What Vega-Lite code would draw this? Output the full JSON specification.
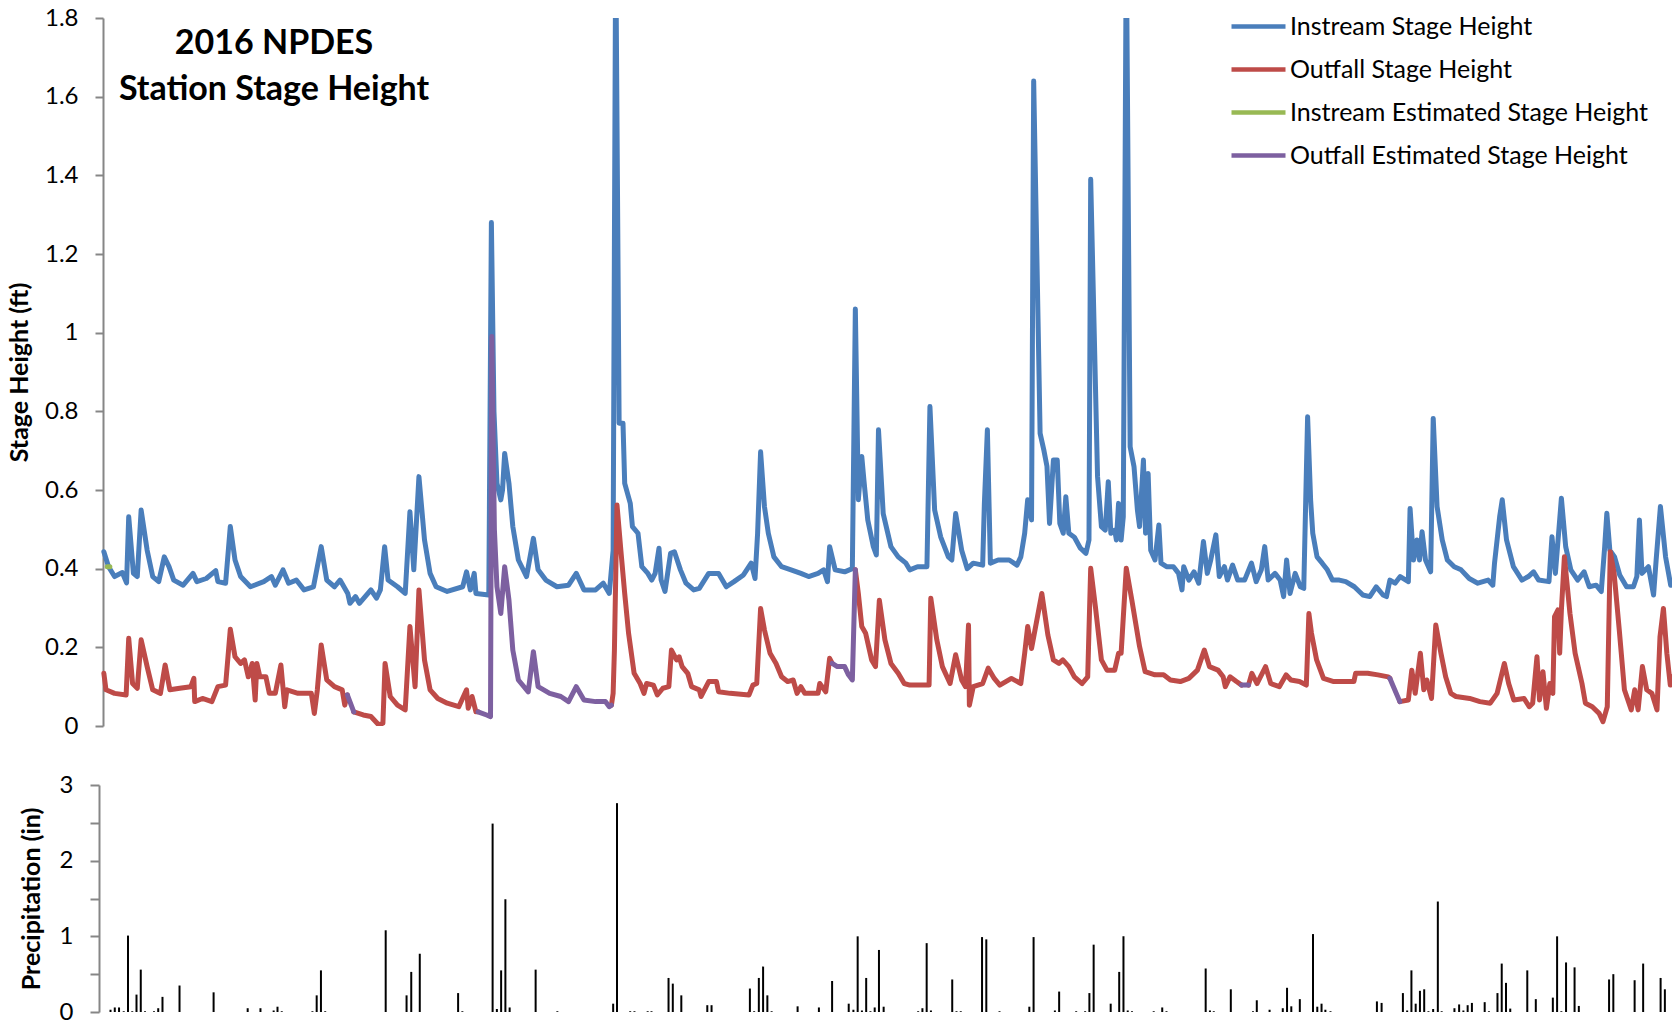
{
  "$schema": "https://vega.github.io/schema/vega-lite/v6.json",
  "padding": {"left": 7, "top": -3, "right": 0, "bottom": 0},
  "background": "white",
  "bounds": "flush",
  "spacing": 59,
  "config": {
    "view": {"stroke": null},
    "font": "Lato",
    "axis": {
      "grid": false,
      "domainColor": "#868686",
      "domainWidth": 2,
      "tickColor": "#868686",
      "tickWidth": 2,
      "labelColor": "#000000",
      "labelFont": "Lato",
      "labelFontSize": 24,
      "labelPadding": 17,
      "titleColor": "#000000",
      "titleFont": "Lato",
      "titleFontSize": 25,
      "titleFontWeight": "bold"
    }
  },
  "datasets": {
    "inst": [
      {"t":0.2,"v":0.443},{"t":1.3,"v":0.405},{"t":2.7,"v":0.38},{"t":4.5,"v":0.39},{"t":5.5,"v":0.364},{"t":6.0,"v":0.532},{"t":7.1,"v":0.388},{"t":8.0,"v":0.38},{"t":8.9,"v":0.549},{"t":10.3,"v":0.447},{"t":11.6,"v":0.38},{"t":13.0,"v":0.367},{"t":14.3,"v":0.43},{"t":15.4,"v":0.405},{"t":16.5,"v":0.371},{"t":18.7,"v":0.358},{"t":21.0,"v":0.388},{"t":21.9,"v":0.367},{"t":24.1,"v":0.375},{"t":26.3,"v":0.395},{"t":26.8,"v":0.367},{"t":28.6,"v":0.363},{"t":29.7,"v":0.507},{"t":30.8,"v":0.422},{"t":32.1,"v":0.38},{"t":34.4,"v":0.354},{"t":37.5,"v":0.367},{"t":39.3,"v":0.38},{"t":40.2,"v":0.358},{"t":42.0,"v":0.397},{"t":43.3,"v":0.363},{"t":45.1,"v":0.371},{"t":46.9,"v":0.346},{"t":49.1,"v":0.354},{"t":50.9,"v":0.456},{"t":52.2,"v":0.371},{"t":54.0,"v":0.354},{"t":55.3,"v":0.371},{"t":57.1,"v":0.337},{"t":57.6,"v":0.312},{"t":58.9,"v":0.329},{"t":59.8,"v":0.312},{"t":62.5,"v":0.346},{"t":63.8,"v":0.325},{"t":64.7,"v":0.346},{"t":65.7,"v":0.456},{"t":66.5,"v":0.371},{"t":68.7,"v":0.354},{"t":70.5,"v":0.337},{"t":71.6,"v":0.545},{"t":72.5,"v":0.397},{"t":73.7,"v":0.634},{"t":75.0,"v":0.473},{"t":76.3,"v":0.388},{"t":77.7,"v":0.354},{"t":80.3,"v":0.342},{"t":83.9,"v":0.354},{"t":84.8,"v":0.392},{"t":85.7,"v":0.346},{"t":86.6,"v":0.388},{"t":87.0,"v":0.337},{"t":90.0,"v":0.333},{"t":90.6,"v":1.28},{"t":91.2,"v":0.8},{"t":91.9,"v":0.617},{"t":92.8,"v":0.575},{"t":93.2,"v":0.6},{"t":93.7,"v":0.693},{"t":94.7,"v":0.617},{"t":95.6,"v":0.507},{"t":96.9,"v":0.422},{"t":98.8,"v":0.38},{"t":100.4,"v":0.477},{"t":101.5,"v":0.397},{"t":103.3,"v":0.371},{"t":105.9,"v":0.354},{"t":108.6,"v":0.358},{"t":110.4,"v":0.388},{"t":112.2,"v":0.346},{"t":114.9,"v":0.346},{"t":116.7,"v":0.363},{"t":118.1,"v":0.337},{"t":119.0,"v":0.447},{"t":119.6,"v":2.0},{"t":120.4,"v":0.77},{"t":121.3,"v":0.77},{"t":121.7,"v":0.617},{"t":123.0,"v":0.566},{"t":123.5,"v":0.507},{"t":124.8,"v":0.49},{"t":125.7,"v":0.405},{"t":127.1,"v":0.388},{"t":128.0,"v":0.371},{"t":128.8,"v":0.388},{"t":129.7,"v":0.452},{"t":130.2,"v":0.371},{"t":131.1,"v":0.342},{"t":132.4,"v":0.439},{"t":133.3,"v":0.443},{"t":134.7,"v":0.397},{"t":136.0,"v":0.363},{"t":137.8,"v":0.346},{"t":139.1,"v":0.35},{"t":141.3,"v":0.388},{"t":143.6,"v":0.388},{"t":145.4,"v":0.354},{"t":147.2,"v":0.367},{"t":149.4,"v":0.384},{"t":151.2,"v":0.414},{"t":152.1,"v":0.375},{"t":152.7,"v":0.49},{"t":153.4,"v":0.697},{"t":154.3,"v":0.558},{"t":155.2,"v":0.49},{"t":156.5,"v":0.43},{"t":158.3,"v":0.405},{"t":160.5,"v":0.397},{"t":162.8,"v":0.388},{"t":164.6,"v":0.38},{"t":166.8,"v":0.388},{"t":168.1,"v":0.397},{"t":169.0,"v":0.367},{"t":169.5,"v":0.456},{"t":170.8,"v":0.397},{"t":173.0,"v":0.392},{"t":174.8,"v":0.4},{"t":175.5,"v":1.06},{"t":176.2,"v":0.575},{"t":177.0,"v":0.685},{"t":177.5,"v":0.625},{"t":178.4,"v":0.524},{"t":179.7,"v":0.456},{"t":180.4,"v":0.435},{"t":180.9,"v":0.753},{"t":182.0,"v":0.54},{"t":183.8,"v":0.456},{"t":185.5,"v":0.43},{"t":187.3,"v":0.414},{"t":188.2,"v":0.397},{"t":190.0,"v":0.405},{"t":192.2,"v":0.405},{"t":192.9,"v":0.812},{"t":194.0,"v":0.549},{"t":195.4,"v":0.481},{"t":197.2,"v":0.43},{"t":198.0,"v":0.422},{"t":198.9,"v":0.54},{"t":200.3,"v":0.447},{"t":201.6,"v":0.4},{"t":203.0,"v":0.414},{"t":205.2,"v":0.409},{"t":205.6,"v":0.566},{"t":206.3,"v":0.753},{"t":207.0,"v":0.414},{"t":208.8,"v":0.422},{"t":211.4,"v":0.422},{"t":213.2,"v":0.409},{"t":214.1,"v":0.43},{"t":215.0,"v":0.49},{"t":215.7,"v":0.575},{"t":216.6,"v":0.524},{"t":217.1,"v":1.64},{"t":218.6,"v":0.744},{"t":219.5,"v":0.7},{"t":220.2,"v":0.66},{"t":220.8,"v":0.515},{"t":221.7,"v":0.676},{"t":222.6,"v":0.676},{"t":223.2,"v":0.515},{"t":224.0,"v":0.49},{"t":224.6,"v":0.583},{"t":225.3,"v":0.49},{"t":226.6,"v":0.48},{"t":228.0,"v":0.452},{"t":229.3,"v":0.439},{"t":230.0,"v":0.473},{"t":230.4,"v":1.39},{"t":232.0,"v":0.634},{"t":232.9,"v":0.507},{"t":233.8,"v":0.498},{"t":234.5,"v":0.621},{"t":235.1,"v":0.49},{"t":236.0,"v":0.498},{"t":236.4,"v":0.473},{"t":236.9,"v":0.566},{"t":237.5,"v":0.473},{"t":238.0,"v":0.532},{"t":238.7,"v":2.0},{"t":239.6,"v":0.71},{"t":240.5,"v":0.66},{"t":241.3,"v":0.549},{"t":241.8,"v":0.507},{"t":242.7,"v":0.676},{"t":243.2,"v":0.49},{"t":243.8,"v":0.642},{"t":244.4,"v":0.447},{"t":245.4,"v":0.422},{"t":246.3,"v":0.511},{"t":246.8,"v":0.414},{"t":248.1,"v":0.405},{"t":249.7,"v":0.405},{"t":250.9,"v":0.388},{"t":251.7,"v":0.346},{"t":252.1,"v":0.405},{"t":253.3,"v":0.371},{"t":254.5,"v":0.392},{"t":255.6,"v":0.363},{"t":256.7,"v":0.469},{"t":257.6,"v":0.388},{"t":258.4,"v":0.422},{"t":259.6,"v":0.486},{"t":260.4,"v":0.38},{"t":261.6,"v":0.405},{"t":262.3,"v":0.371},{"t":263.5,"v":0.409},{"t":264.7,"v":0.371},{"t":266.3,"v":0.371},{"t":267.9,"v":0.414},{"t":269.0,"v":0.367},{"t":270.2,"v":0.397},{"t":271.0,"v":0.456},{"t":271.8,"v":0.371},{"t":273.4,"v":0.388},{"t":274.6,"v":0.371},{"t":275.4,"v":0.329},{"t":276.1,"v":0.422},{"t":276.9,"v":0.337},{"t":278.1,"v":0.388},{"t":279.3,"v":0.354},{"t":280.1,"v":0.35},{"t":281.0,"v":0.786},{"t":281.7,"v":0.575},{"t":282.2,"v":0.49},{"t":283.2,"v":0.43},{"t":284.4,"v":0.414},{"t":285.6,"v":0.397},{"t":286.8,"v":0.371},{"t":288.4,"v":0.371},{"t":289.9,"v":0.367},{"t":291.9,"v":0.354},{"t":293.9,"v":0.333},{"t":295.5,"v":0.329},{"t":297.0,"v":0.354},{"t":298.6,"v":0.333},{"t":299.4,"v":0.329},{"t":300.2,"v":0.371},{"t":301.4,"v":0.363},{"t":302.6,"v":0.38},{"t":304.5,"v":0.367},{"t":304.9,"v":0.553},{"t":305.7,"v":0.422},{"t":306.5,"v":0.473},{"t":307.1,"v":0.422},{"t":307.7,"v":0.494},{"t":308.5,"v":0.422},{"t":309.7,"v":0.392},{"t":310.3,"v":0.782},{"t":311.2,"v":0.558},{"t":312.4,"v":0.473},{"t":313.6,"v":0.422},{"t":315.2,"v":0.405},{"t":316.8,"v":0.397},{"t":318.7,"v":0.375},{"t":320.7,"v":0.363},{"t":323.1,"v":0.371},{"t":324.2,"v":0.358},{"t":324.6,"v":0.414},{"t":325.8,"v":0.532},{"t":326.4,"v":0.575},{"t":327.4,"v":0.473},{"t":329.0,"v":0.405},{"t":331.0,"v":0.371},{"t":332.5,"v":0.38},{"t":333.7,"v":0.392},{"t":334.9,"v":0.371},{"t":337.3,"v":0.367},{"t":338.0,"v":0.481},{"t":338.8,"v":0.388},{"t":340.2,"v":0.579},{"t":341.2,"v":0.456},{"t":342.4,"v":0.397},{"t":344.0,"v":0.371},{"t":345.5,"v":0.392},{"t":346.7,"v":0.354},{"t":348.3,"v":0.358},{"t":349.5,"v":0.342},{"t":350.3,"v":0.456},{"t":350.8,"v":0.541},{"t":351.5,"v":0.447},{"t":352.6,"v":0.43},{"t":353.8,"v":0.384},{"t":355.4,"v":0.354},{"t":357.0,"v":0.354},{"t":357.8,"v":0.38},{"t":358.4,"v":0.524},{"t":359.0,"v":0.388},{"t":360.5,"v":0.405},{"t":361.7,"v":0.333},{"t":362.3,"v":0.422},{"t":363.3,"v":0.558},{"t":364.5,"v":0.43},{"t":365.7,"v":0.358}
    ],
    "outf": [
      {"g":1,"t":0.2,"v":0.134},{"g":1,"t":0.7,"v":0.092},{"g":1,"t":2.7,"v":0.083},{"g":1,"t":5.4,"v":0.079},{"g":1,"t":6.0,"v":0.223},{"g":1,"t":6.9,"v":0.108},{"g":1,"t":8.0,"v":0.096},{"g":1,"t":8.9,"v":0.219},{"g":1,"t":10.3,"v":0.151},{"g":1,"t":11.6,"v":0.092},{"g":1,"t":13.4,"v":0.083},{"g":1,"t":14.5,"v":0.155},{"g":1,"t":15.6,"v":0.092},{"g":1,"t":17.9,"v":0.096},{"g":1,"t":20.5,"v":0.1},{"g":1,"t":21.2,"v":0.121},{"g":1,"t":21.4,"v":0.062},{"g":1,"t":23.2,"v":0.07},{"g":1,"t":25.4,"v":0.062},{"g":1,"t":26.8,"v":0.1},{"g":1,"t":28.6,"v":0.104},{"g":1,"t":29.7,"v":0.246},{"g":1,"t":30.8,"v":0.176},{"g":1,"t":32.1,"v":0.159},{"g":1,"t":33.0,"v":0.168},{"g":1,"t":33.9,"v":0.125},{"g":1,"t":34.8,"v":0.159},{"g":1,"t":35.5,"v":0.066},{"g":1,"t":35.9,"v":0.159},{"g":1,"t":36.6,"v":0.125},{"g":1,"t":38.0,"v":0.125},{"g":1,"t":38.8,"v":0.083},{"g":1,"t":40.2,"v":0.083},{"g":1,"t":41.5,"v":0.155},{"g":1,"t":42.4,"v":0.049},{"g":1,"t":42.9,"v":0.092},{"g":1,"t":45.5,"v":0.083},{"g":1,"t":48.6,"v":0.083},{"g":1,"t":49.3,"v":0.032},{"g":1,"t":50.0,"v":0.092},{"g":1,"t":50.9,"v":0.206},{"g":1,"t":52.2,"v":0.117},{"g":1,"t":54.0,"v":0.1},{"g":1,"t":55.8,"v":0.092},{"g":1,"t":56.4,"v":0.053},{"g":1,"t":57.0,"v":0.079},
      {"g":2,"t":58.5,"v":0.036},{"g":2,"t":60.7,"v":0.028},{"g":2,"t":62.5,"v":0.024},{"g":2,"t":64.3,"v":0.003},{"g":2,"t":65.3,"v":0.007},{"g":2,"t":65.8,"v":0.159},{"g":2,"t":67.0,"v":0.075},{"g":2,"t":68.7,"v":0.053},{"g":2,"t":70.5,"v":0.041},{"g":2,"t":71.6,"v":0.253},{"g":2,"t":72.8,"v":0.1},{"g":2,"t":73.7,"v":0.346},{"g":2,"t":75.0,"v":0.168},{"g":2,"t":76.3,"v":0.092},{"g":2,"t":78.1,"v":0.07},{"g":2,"t":80.3,"v":0.058},{"g":2,"t":83.0,"v":0.049},{"g":2,"t":84.8,"v":0.092},{"g":2,"t":85.2,"v":0.045},{"g":2,"t":86.1,"v":0.075},{"g":2,"t":87.0,"v":0.036},{"g":2,"t":87.5,"v":0.036},
      {"g":3,"t":118.6,"v":0.053},{"g":3,"t":119.0,"v":0.083},{"g":3,"t":119.3,"v":0.193},{"g":3,"t":119.9,"v":0.562},{"g":3,"t":120.8,"v":0.447},{"g":3,"t":121.7,"v":0.337},{"g":3,"t":122.6,"v":0.236},{"g":3,"t":123.9,"v":0.134},{"g":3,"t":125.3,"v":0.108},{"g":3,"t":126.2,"v":0.083},{"g":3,"t":126.8,"v":0.108},{"g":3,"t":128.4,"v":0.104},{"g":3,"t":129.3,"v":0.079},{"g":3,"t":130.6,"v":0.096},{"g":3,"t":132.0,"v":0.1},{"g":3,"t":132.6,"v":0.193},{"g":3,"t":133.8,"v":0.168},{"g":3,"t":134.4,"v":0.176},{"g":3,"t":135.1,"v":0.151},{"g":3,"t":136.4,"v":0.134},{"g":3,"t":137.3,"v":0.1},{"g":3,"t":139.1,"v":0.092},{"g":3,"t":139.5,"v":0.075},{"g":3,"t":141.3,"v":0.113},{"g":3,"t":143.1,"v":0.113},{"g":3,"t":143.6,"v":0.087},{"g":3,"t":146.3,"v":0.083},{"g":3,"t":150.7,"v":0.079},{"g":3,"t":151.6,"v":0.104},{"g":3,"t":152.5,"v":0.108},{"g":3,"t":153.4,"v":0.299},{"g":3,"t":154.3,"v":0.244},{"g":3,"t":155.6,"v":0.185},{"g":3,"t":157.0,"v":0.159},{"g":3,"t":158.3,"v":0.125},{"g":3,"t":159.7,"v":0.113},{"g":3,"t":161.0,"v":0.117},{"g":3,"t":161.9,"v":0.083},{"g":3,"t":162.8,"v":0.1},{"g":3,"t":163.7,"v":0.083},{"g":3,"t":166.8,"v":0.083},{"g":3,"t":167.2,"v":0.108},{"g":3,"t":168.6,"v":0.087},{"g":3,"t":169.5,"v":0.172},{"g":3,"t":170.1,"v":0.159},
      {"g":4,"t":175.5,"v":0.397},{"g":4,"t":176.2,"v":0.337},{"g":4,"t":177.0,"v":0.253},{"g":4,"t":177.9,"v":0.236},{"g":4,"t":179.3,"v":0.168},{"g":4,"t":180.2,"v":0.151},{"g":4,"t":181.1,"v":0.32},{"g":4,"t":182.4,"v":0.219},{"g":4,"t":183.8,"v":0.159},{"g":4,"t":185.5,"v":0.134},{"g":4,"t":186.9,"v":0.108},{"g":4,"t":188.2,"v":0.104},{"g":4,"t":192.7,"v":0.104},{"g":4,"t":193.1,"v":0.325},{"g":4,"t":194.5,"v":0.219},{"g":4,"t":195.8,"v":0.151},{"g":4,"t":197.6,"v":0.108},{"g":4,"t":198.9,"v":0.181},{"g":4,"t":200.3,"v":0.117},{"g":4,"t":201.2,"v":0.1},{"g":4,"t":201.9,"v":0.257},{"g":4,"t":202.1,"v":0.053},{"g":4,"t":203.0,"v":0.1},{"g":4,"t":205.2,"v":0.108},{"g":4,"t":206.5,"v":0.147},{"g":4,"t":207.9,"v":0.121},{"g":4,"t":209.2,"v":0.104},{"g":4,"t":211.9,"v":0.121},{"g":4,"t":214.1,"v":0.108},{"g":4,"t":215.0,"v":0.185},{"g":4,"t":215.7,"v":0.253},{"g":4,"t":216.6,"v":0.197},{"g":4,"t":219.0,"v":0.337},{"g":4,"t":220.4,"v":0.232},{"g":4,"t":221.7,"v":0.168},{"g":4,"t":223.0,"v":0.159},{"g":4,"t":223.9,"v":0.168},{"g":4,"t":225.3,"v":0.151},{"g":4,"t":226.6,"v":0.125},{"g":4,"t":228.4,"v":0.108},{"g":4,"t":229.7,"v":0.125},{"g":4,"t":230.4,"v":0.401},{"g":4,"t":231.5,"v":0.303},{"g":4,"t":232.9,"v":0.168},{"g":4,"t":234.2,"v":0.142},{"g":4,"t":236.0,"v":0.142},{"g":4,"t":236.9,"v":0.185},{"g":4,"t":237.5,"v":0.185},{"g":4,"t":238.7,"v":0.401},{"g":4,"t":240.0,"v":0.32},{"g":4,"t":241.8,"v":0.202},{"g":4,"t":243.1,"v":0.138},{"g":4,"t":245.4,"v":0.13},{"g":4,"t":247.4,"v":0.13},{"g":4,"t":249.0,"v":0.117},{"g":4,"t":251.3,"v":0.113},{"g":4,"t":253.3,"v":0.121},{"g":4,"t":255.3,"v":0.142},{"g":4,"t":256.9,"v":0.193},{"g":4,"t":258.1,"v":0.151},{"g":4,"t":260.1,"v":0.142},{"g":4,"t":261.3,"v":0.125},{"g":4,"t":261.8,"v":0.1},{"g":4,"t":262.9,"v":0.125},{"g":4,"t":264.4,"v":0.113},{"g":4,"t":265.6,"v":0.104},
      {"g":5,"t":267.2,"v":0.104},{"g":5,"t":268.0,"v":0.134},{"g":5,"t":269.2,"v":0.108},{"g":5,"t":271.2,"v":0.151},{"g":5,"t":272.4,"v":0.108},{"g":5,"t":274.4,"v":0.1},{"g":5,"t":276.0,"v":0.13},{"g":5,"t":277.1,"v":0.117},{"g":5,"t":279.1,"v":0.113},{"g":5,"t":280.7,"v":0.104},{"g":5,"t":281.3,"v":0.286},{"g":5,"t":281.9,"v":0.236},{"g":5,"t":283.1,"v":0.168},{"g":5,"t":284.7,"v":0.121},{"g":5,"t":287.1,"v":0.113},{"g":5,"t":291.8,"v":0.113},{"g":5,"t":292.2,"v":0.134},{"g":5,"t":295.0,"v":0.134},{"g":5,"t":297.4,"v":0.13},{"g":5,"t":299.8,"v":0.125},{"g":5,"t":300.2,"v":0.121},
      {"g":6,"t":302.5,"v":0.062},{"g":6,"t":304.5,"v":0.066},{"g":6,"t":305.3,"v":0.142},{"g":6,"t":306.1,"v":0.083},{"g":6,"t":307.3,"v":0.185},{"g":6,"t":308.1,"v":0.092},{"g":6,"t":308.8,"v":0.117},{"g":6,"t":309.9,"v":0.07},{"g":6,"t":310.9,"v":0.257},{"g":6,"t":312.1,"v":0.185},{"g":6,"t":313.2,"v":0.125},{"g":6,"t":314.4,"v":0.083},{"g":6,"t":315.6,"v":0.075},{"g":6,"t":318.8,"v":0.07},{"g":6,"t":321.2,"v":0.062},{"g":6,"t":323.6,"v":0.058},{"g":6,"t":325.2,"v":0.083},{"g":6,"t":326.9,"v":0.159},{"g":6,"t":327.9,"v":0.108},{"g":6,"t":329.1,"v":0.066},{"g":6,"t":331.5,"v":0.07},{"g":6,"t":332.7,"v":0.049},{"g":6,"t":333.5,"v":0.058},{"g":6,"t":334.5,"v":0.176},{"g":6,"t":335.1,"v":0.066},{"g":6,"t":335.9,"v":0.138},{"g":6,"t":336.7,"v":0.045},{"g":6,"t":337.5,"v":0.108},{"g":6,"t":338.2,"v":0.083},{"g":6,"t":338.6,"v":0.278},{"g":6,"t":339.4,"v":0.295},{"g":6,"t":339.8,"v":0.185},{"g":6,"t":340.2,"v":0.295},{"g":6,"t":340.9,"v":0.43},{"g":6,"t":342.2,"v":0.286},{"g":6,"t":343.4,"v":0.185},{"g":6,"t":345.0,"v":0.108},{"g":6,"t":345.8,"v":0.058},{"g":6,"t":347.4,"v":0.049},{"g":6,"t":349.0,"v":0.032},{"g":6,"t":349.9,"v":0.011},{"g":6,"t":350.9,"v":0.049},{"g":6,"t":351.6,"v":0.443},{"g":6,"t":352.5,"v":0.388},{"g":6,"t":353.7,"v":0.244},{"g":6,"t":354.9,"v":0.092},{"g":6,"t":356.5,"v":0.041},{"g":6,"t":357.3,"v":0.092},{"g":6,"t":358.1,"v":0.041},{"g":6,"t":359.1,"v":0.151},{"g":6,"t":360.1,"v":0.092},{"g":6,"t":361.3,"v":0.083},{"g":6,"t":362.5,"v":0.041},{"g":6,"t":363.2,"v":0.227},{"g":6,"t":364.0,"v":0.299},{"g":6,"t":364.8,"v":0.185},{"g":6,"t":365.6,"v":0.104},{"g":6,"t":366.0,"v":0.125}
    ],
    "iest": [{"t":1.0,"v":0.405},{"t":1.6,"v":0.405}],
    "oest": [
      {"g":1,"t":57.0,"v":0.079},{"g":1,"t":58.5,"v":0.036},
      {"g":2,"t":87.5,"v":0.036},{"g":2,"t":89.5,"v":0.028},{"g":2,"t":90.4,"v":0.024},{"g":2,"t":90.7,"v":0.99},{"g":2,"t":91.3,"v":0.5},{"g":2,"t":91.9,"v":0.354},{"g":2,"t":92.8,"v":0.286},{"g":2,"t":93.7,"v":0.405},{"g":2,"t":94.7,"v":0.32},{"g":2,"t":95.6,"v":0.193},{"g":2,"t":96.9,"v":0.117},{"g":2,"t":99.2,"v":0.087},{"g":2,"t":100.4,"v":0.189},{"g":2,"t":101.5,"v":0.1},{"g":2,"t":104.2,"v":0.083},{"g":2,"t":106.8,"v":0.075},{"g":2,"t":108.6,"v":0.062},{"g":2,"t":110.4,"v":0.1},{"g":2,"t":112.2,"v":0.066},{"g":2,"t":114.9,"v":0.062},{"g":2,"t":117.2,"v":0.062},{"g":2,"t":118.1,"v":0.049},{"g":2,"t":118.6,"v":0.053},
      {"g":3,"t":170.1,"v":0.159},{"g":3,"t":171.3,"v":0.151},{"g":3,"t":173.0,"v":0.151},{"g":3,"t":173.9,"v":0.13},{"g":3,"t":174.8,"v":0.117},{"g":3,"t":175.5,"v":0.397},
      {"g":4,"t":265.6,"v":0.104},{"g":4,"t":267.2,"v":0.104},
      {"g":5,"t":300.2,"v":0.121},{"g":5,"t":302.5,"v":0.062}
    ],
    "prcp": [
      {"d":0.6,"p":0.03},{"d":1.6,"p":0.06},{"d":2.6,"p":0.06},{"d":3.7,"p":0.01},{"d":4.7,"p":1.01},{"d":5.7,"p":0.01},{"d":6.7,"p":0.23},{"d":7.7,"p":0.56},{"d":8.7,"p":0.01},{"d":10.8,"p":0.01},{"d":11.8,"p":0.05},{"d":12.8,"p":0.2},{"d":16.8,"p":0.35},{"d":24.8,"p":0.26},{"d":32.8,"p":0.05},{"d":35.8,"p":0.05},{"d":38.9,"p":0.02},{"d":39.8,"p":0.07},{"d":40.8,"p":0.01},{"d":48.0,"p":0.01},{"d":49.0,"p":0.22},{"d":50.0,"p":0.55},{"d":51.0,"p":0.01},{"d":65.2,"p":1.08},{"d":70.1,"p":0.22},{"d":71.2,"p":0.53},{"d":73.2,"p":0.77},{"d":82.2,"p":0.25},{"d":83.2,"p":0.01},{"d":90.3,"p":2.49},{"d":91.3,"p":0.04},{"d":92.3,"p":0.55},{"d":93.3,"p":1.49},{"d":94.3,"p":0.06},{"d":100.4,"p":0.56},{"d":105.5,"p":0.01},{"d":118.6,"p":0.11},{"d":119.5,"p":2.76},{"d":122.6,"p":0.01},{"d":123.6,"p":0.01},{"d":126.7,"p":0.01},{"d":127.6,"p":0.01},{"d":131.6,"p":0.45},{"d":132.6,"p":0.375},{"d":134.6,"p":0.22},{"d":140.7,"p":0.09},{"d":141.7,"p":0.09},{"d":150.7,"p":0.31},{"d":151.7,"p":0.01},{"d":152.8,"p":0.45},{"d":153.8,"p":0.6},{"d":154.8,"p":0.22},{"d":155.8,"p":0.01},{"d":161.9,"p":0.075},{"d":166.9,"p":0.06},{"d":170.0,"p":0.41},{"d":173.9,"p":0.11},{"d":175.0,"p":0.03},{"d":176.0,"p":1.0},{"d":177.0,"p":0.02},{"d":178.0,"p":0.45},{"d":179.0,"p":0.01},{"d":180.0,"p":0.06},{"d":181.0,"p":0.82},{"d":182.1,"p":0.07},{"d":190.2,"p":0.01},{"d":191.2,"p":0.05},{"d":192.2,"p":0.91},{"d":193.2,"p":0.02},{"d":198.2,"p":0.43},{"d":199.2,"p":0.01},{"d":200.2,"p":0.01},{"d":205.2,"p":0.99},{"d":206.2,"p":0.96},{"d":209.3,"p":0.01},{"d":216.3,"p":0.07},{"d":217.3,"p":0.99},{"d":222.3,"p":0.02},{"d":223.3,"p":0.27},{"d":227.3,"p":0.01},{"d":229.4,"p":0.01},{"d":230.4,"p":0.25},{"d":231.4,"p":0.89},{"d":235.4,"p":0.11},{"d":237.4,"p":0.53},{"d":238.4,"p":1.0},{"d":239.4,"p":0.02},{"d":240.4,"p":0.01},{"d":245.5,"p":0.01},{"d":247.5,"p":0.06},{"d":248.5,"p":0.01},{"d":257.7,"p":0.575},{"d":258.7,"p":0.02},{"d":259.6,"p":0.01},{"d":263.6,"p":0.3},{"d":268.8,"p":0.01},{"d":269.7,"p":0.155},{"d":272.7,"p":0.03},{"d":275.8,"p":0.05},{"d":276.8,"p":0.32},{"d":277.8,"p":0.075},{"d":279.8,"p":0.17},{"d":282.9,"p":1.03},{"d":283.9,"p":0.07},{"d":284.9,"p":0.11},{"d":285.8,"p":0.03},{"d":287.0,"p":0.01},{"d":297.9,"p":0.14},{"d":299.0,"p":0.12},{"d":304.0,"p":0.25},{"d":305.0,"p":0.02},{"d":306.0,"p":0.55},{"d":307.0,"p":0.11},{"d":308.0,"p":0.28},{"d":309.0,"p":0.3},{"d":310.0,"p":0.01},{"d":311.1,"p":0.04},{"d":312.2,"p":1.46},{"d":313.1,"p":0.01},{"d":316.1,"p":0.05},{"d":317.2,"p":0.1},{"d":318.2,"p":0.02},{"d":319.2,"p":0.09},{"d":320.2,"p":0.12},{"d":323.2,"p":0.13},{"d":324.2,"p":0.01},{"d":326.2,"p":0.25},{"d":327.2,"p":0.64},{"d":328.2,"p":0.385},{"d":329.2,"p":0.045},{"d":333.2,"p":0.55},{"d":335.2,"p":0.17},{"d":339.2,"p":0.19},{"d":340.2,"p":1.0},{"d":341.2,"p":0.01},{"d":342.3,"p":0.655},{"d":344.3,"p":0.59},{"d":345.3,"p":0.08},{"d":352.4,"p":0.43},{"d":353.4,"p":0.5},{"d":358.4,"p":0.42},{"d":360.4,"p":0.64},{"d":364.5,"p":0.45},{"d":365.5,"p":0.3}
    ]
  },
  "vconcat": [
    {
      "width": 1573,
      "height": 708,
      "layer": [
        {
          "data": {"name": "inst"},
          "mark": {"type": "line", "clip": true, "strokeWidth": 5, "strokeJoin": "round", "strokeCap": "round"},
          "encoding": {
            "x": {"field": "t", "type": "quantitative", "scale": {"domain": [-0.93, 366], "nice": false, "zero": false}, "axis": null},
            "y": {"field": "v", "type": "quantitative", "scale": {"domain": [0, 1.8], "nice": false},
              "axis": {"title": "Stage Height (ft)", "values": [0, 0.2, 0.4, 0.6, 0.8, 1, 1.2, 1.4, 1.6, 1.8], "format": ".2~f", "tickSize": 8, "offset": -4, "titlePadding": 12}},
            "color": {"datum": "Instream Stage Height", "type": "nominal",
              "scale": {"domain": ["Instream Stage Height", "Outfall Stage Height", "Instream Estimated Stage Height", "Outfall Estimated Stage Height"], "range": ["#4A7EBB", "#BE4B48", "#98B954", "#7D60A0"]},
              "legend": {"title": null, "orient": "none", "legendX": 1130, "legendY": -21, "symbolType": "stroke", "symbolSize": 2916, "symbolStrokeWidth": 4.5, "labelFont": "Lato", "labelFontSize": 25, "labelColor": "#000000", "labelOffset": 2, "rowPadding": -10, "padding": 0, "labelLimit": 500}}
          }
        },
        {
          "data": {"name": "outf"},
          "mark": {"type": "line", "clip": true, "strokeWidth": 5, "strokeJoin": "round", "strokeCap": "round"},
          "encoding": {
            "x": {"field": "t", "type": "quantitative"},
            "y": {"field": "v", "type": "quantitative"},
            "detail": {"field": "g", "type": "nominal"},
            "color": {"datum": "Outfall Stage Height", "type": "nominal"}
          }
        },
        {
          "data": {"name": "iest"},
          "mark": {"type": "line", "clip": true, "strokeWidth": 5, "strokeJoin": "round", "strokeCap": "round"},
          "encoding": {
            "x": {"field": "t", "type": "quantitative"},
            "y": {"field": "v", "type": "quantitative"},
            "color": {"datum": "Instream Estimated Stage Height", "type": "nominal"}
          }
        },
        {
          "data": {"name": "oest"},
          "mark": {"type": "line", "clip": true, "strokeWidth": 5, "strokeJoin": "round", "strokeCap": "round"},
          "encoding": {
            "x": {"field": "t", "type": "quantitative"},
            "y": {"field": "v", "type": "quantitative"},
            "detail": {"field": "g", "type": "nominal"},
            "color": {"datum": "Outfall Estimated Stage Height", "type": "nominal"}
          }
        },
        {
          "data": {"values": [{}]},
          "mark": {"type": "text", "font": "Lato", "fontWeight": "bold", "fontSize": 34, "align": "center", "baseline": "alphabetic", "lineHeight": 46, "color": "#000000"},
          "encoding": {
            "x": {"datum": 39.9, "type": "quantitative"},
            "y": {"datum": 1.709, "type": "quantitative"},
            "text": {"value": ["2016 NPDES", "Station Stage Height"]}
          }
        }
      ]
    },
    {
      "width": 1573,
      "height": 227,
      "data": {"name": "prcp"},
      "mark": {"type": "bar", "size": 2, "color": "#000000"},
      "encoding": {
        "x": {"field": "d", "type": "quantitative", "scale": {"domain": [-0.93, 366], "nice": false, "zero": false}, "axis": null},
        "y": {"field": "p", "type": "quantitative", "scale": {"domain": [0, 3], "nice": false},
          "axis": {"title": "Precipitation (in)", "values": [0, 0.5, 1, 1.5, 2, 2.5, 3], "labelExpr": "datum.value % 1 === 0 ? format(datum.value, 'd') : ''", "tickSize": 9, "titlePadding": 15}}
      }
    }
  ]
}
